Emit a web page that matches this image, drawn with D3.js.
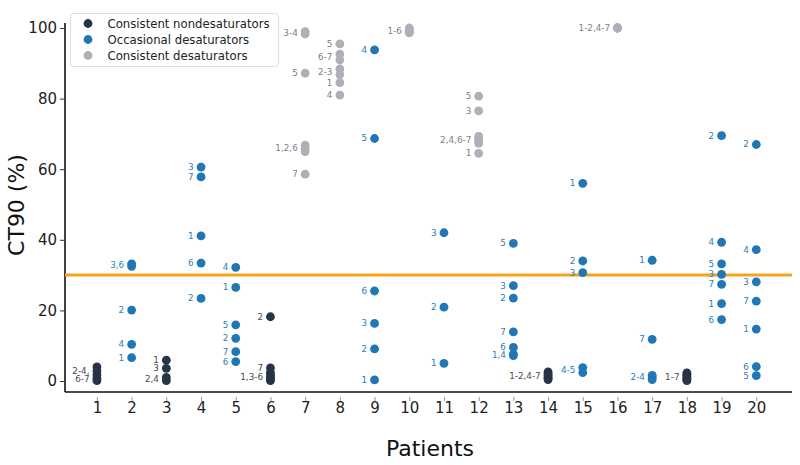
<!DOCTYPE html>
<html><head><meta charset="utf-8">
<script src="https://cdn.jsdelivr.net/npm/d3@7"></script>
<style>body{margin:0;background:#fff}svg{display:block}text{font-family:"DejaVu Sans",sans-serif}</style>
</head><body><svg id="c" width="800" height="465"></svg>
<script>
// ---- data ----
const patients = d3.range(1, 21);
const xTicks = patients;
const yTicks = [0, 20, 40, 60, 80, 100];
const threshold = 30;
const groupNames = ["Consistent nondesaturators", "Occasional desaturators", "Consistent desaturators"];
const groupColors = ["#263445", "#2077b4", "#aeb0b7"];
const labelColors = ["#444b55", "#2f7db6", "#7d8087"];

// Each entry: patient, night label, CT90 values of the nights sharing that label
const nondesaturators = [
  [1, "2-4,", [4.0, 2.8, 1.7]], [1, "6-7", [0.8, 0.1]],
  [3, "1", [5.9]], [3, "3", [3.6]], [3, "2,4", [1.0, 0.1]],
  [6, "2", [18.2]], [6, "7", [3.7]], [6, "1,3-6", [2.4, 1.7, 1.0, 0.5, 0.1]],
  [14, "1-2,4-7", [2.6, 2.1, 1.6, 1.2, 0.8, 0.4]],
  [18, "1-7", [2.3, 1.9, 1.5, 1.1, 0.7, 0.4, 0.1]]
];
const occasional = [
  [2, "3,6", [33.2, 32.5]], [2, "2", [20.1]], [2, "4", [10.4]], [2, "1", [6.6]],
  [4, "3", [60.6]], [4, "7", [57.8]], [4, "1", [41.1]], [4, "6", [33.4]], [4, "2", [23.4]],
  [5, "4", [32.2]], [5, "1", [26.5]], [5, "5", [15.9]], [5, "2", [12.1]], [5, "7", [8.3]], [5, "6", [5.5]],
  [9, "4", [93.8]], [9, "5", [68.7]], [9, "6", [25.5]], [9, "3", [16.3]], [9, "2", [9.1]], [9, "1", [0.3]],
  [11, "3", [42.0]], [11, "2", [20.9]], [11, "1", [5.0]],
  [13, "5", [39.0]], [13, "3", [27.0]], [13, "2", [23.5]], [13, "7", [13.9]], [13, "6", [9.5]], [13, "1,4", [7.6, 7.2]],
  [15, "1", [56.0]], [15, "2", [34.0]], [15, "3", [30.7]], [15, "4-5", [3.8, 2.4]],
  [17, "1", [34.2]], [17, "7", [11.8]], [17, "2-4", [1.6, 1.0, 0.4]],
  [19, "2", [69.5]], [19, "4", [39.3]], [19, "5", [33.2]], [19, "3", [30.2]], [19, "7", [27.4]], [19, "1", [21.9]], [19, "6", [17.4]],
  [20, "2", [67.0]], [20, "4", [37.2]], [20, "3", [28.1]], [20, "7", [22.6]], [20, "1", [14.7]], [20, "6", [4.1]], [20, "5", [1.5]]
];
const consistent = [
  [7, "3-4", [99.0, 98.3]], [7, "5", [87.2]], [7, "1,2,6", [66.8, 65.8, 65.0]], [7, "7", [58.6]],
  [8, "5", [95.5]], [8, "6-7", [92.6, 91.0]], [8, "2-3", [88.4, 86.8]], [8, "1", [84.5]], [8, "4", [81.0]],
  [10, "1-6", [100, 99.7, 99.4, 99.1, 98.8, 98.6]],
  [12, "5", [80.7]], [12, "3", [76.5]], [12, "2,4,6-7", [69.3, 68.6, 67.9, 67.3]], [12, "1", [64.5]],
  [16, "1-2,4-7", [100, 100, 100, 100, 100, 100]]
];
const groups = [nondesaturators, occasional, consistent];

// ---- chart ----
const svg = d3.select("#c");
const x = d3.scaleLinear().domain([0.08, 21]).range([65, 791]);
const y = d3.scaleLinear().domain([0, 100]).range([381, 28]);
const r = 4.4;

// axes
const yAxis = svg.append("g").attr("transform", "translate(65,0)")
  .call(d3.axisLeft(y).tickValues(yTicks).tickSize(5).tickPadding(3));
yAxis.select(".domain").attr("d", "M0,23V392").attr("stroke", "#111").attr("stroke-width", 1.6);
yAxis.selectAll(".tick line").attr("stroke", "#333");
yAxis.selectAll(".tick text").attr("font-size", 15).attr("fill", "#222").attr("font-family", "DejaVu Sans");

const xAxis = svg.append("g").attr("transform", "translate(0,392)")
  .call(d3.axisBottom(x).tickValues(xTicks).tickSize(0).tickPadding(10));
xAxis.select(".domain").attr("d", "M65,0H792").attr("stroke", "#111").attr("stroke-width", 1.6);
xAxis.selectAll(".tick").append("line").attr("y1", 5).attr("y2", 9).attr("stroke", "#999");
xAxis.selectAll(".tick text").attr("font-size", 15).attr("fill", "#222").attr("font-family", "DejaVu Sans");

// titles
svg.append("text").attr("x", 430).attr("y", 456).attr("text-anchor", "middle")
  .attr("font-size", 22).attr("fill", "#111").text("Patients");
svg.append("text").attr("transform", "translate(24,205) rotate(-90)").attr("text-anchor", "middle")
  .attr("font-size", 22).attr("fill", "#111").text("CT90 (%)");

// threshold line
svg.append("line").attr("x1", 65).attr("x2", 792).attr("y1", y(threshold)).attr("y2", y(threshold))
  .attr("stroke", "#f5a31a").attr("stroke-width", 3);

// points and labels
groups.forEach((g, gi) => {
  const layer = svg.append("g");
  g.forEach(([p, lab, vals]) => {
    vals.forEach(v => {
      layer.append("circle").attr("cx", x(p)).attr("cy", y(v)).attr("r", r).attr("fill", groupColors[gi]);
    });
    layer.append("text").attr("x", x(p) - r - 3).attr("y", y(d3.mean(vals)))
      .attr("text-anchor", "end").attr("dominant-baseline", "central")
      .attr("font-size", 8.8).attr("fill", labelColors[gi]).text(lab);
  });
});

// legend
const lg = svg.append("g");
lg.append("rect").attr("x", 70.5).attr("y", 13.5).attr("width", 208).attr("height", 53).attr("rx", 3)
  .attr("fill", "#fff").attr("fill-opacity", 0.85).attr("stroke", "#ddd");
groupNames.forEach((n, i) => {
  lg.append("circle").attr("cx", 88).attr("cy", 23.5 + i * 16).attr("r", 4.4).attr("fill", groupColors[i]);
  lg.append("text").attr("x", 107.5).attr("y", 23.5 + i * 16).attr("dominant-baseline", "central")
    .attr("font-size", 11.7).attr("fill", "#222").text(n);
});
</script></body></html>
